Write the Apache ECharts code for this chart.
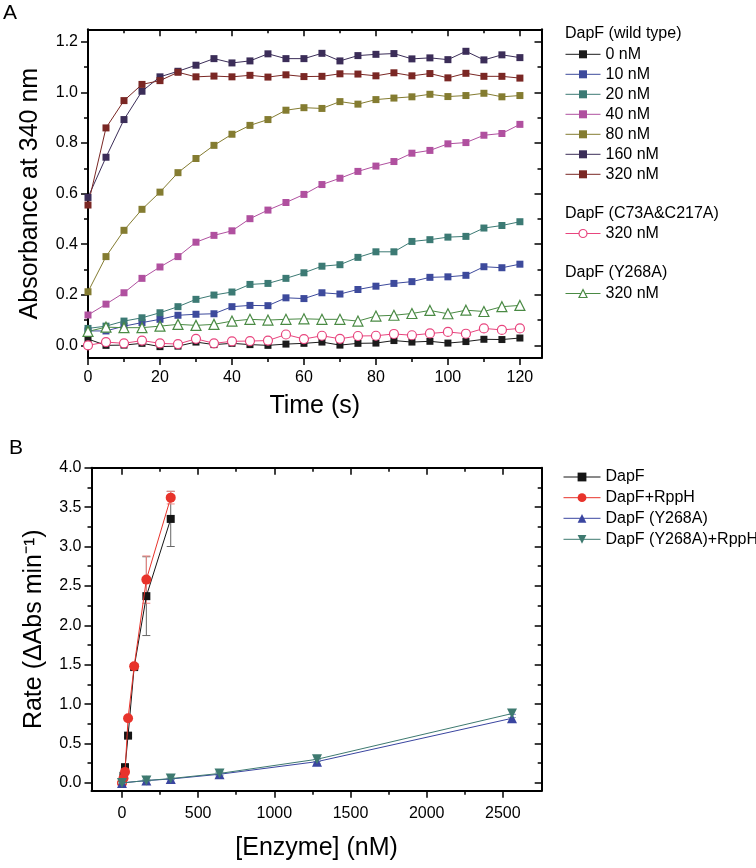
<!DOCTYPE html>
<html><head><meta charset="utf-8">
<script src="https://cdn.jsdelivr.net/npm/echarts@6/dist/echarts.min.js"></script>
<style>html,body{margin:0;padding:0;background:#fff}#c{width:756px;height:868px}</style>
</head><body><div id="c"></div>
<script>
// ---------- Panel A data ----------
const time = [0,5,10,15,20,25,30,35,40,45,50,55,60,65,70,75,80,85,90,95,100,105,110,115,120];
const wt0   = [0.025,0.000,0.001,0.008,-0.005,-0.003,0.013,0.003,0.008,0.003,0.000,0.005,0.008,0.013,0.001,0.008,0.009,0.019,0.013,0.016,0.009,0.015,0.024,0.023,0.029];
const wt10  = [0.057,0.057,0.076,0.090,0.103,0.119,0.123,0.125,0.153,0.158,0.157,0.188,0.185,0.208,0.203,0.221,0.234,0.245,0.252,0.269,0.271,0.277,0.311,0.307,0.321];
const wt20  = [0.067,0.076,0.096,0.109,0.129,0.153,0.182,0.199,0.211,0.241,0.245,0.265,0.287,0.313,0.319,0.348,0.370,0.370,0.411,0.418,0.428,0.431,0.464,0.474,0.489];
const wt40  = [0.120,0.163,0.208,0.265,0.310,0.351,0.408,0.435,0.453,0.501,0.535,0.565,0.597,0.636,0.661,0.688,0.709,0.727,0.760,0.771,0.797,0.802,0.831,0.838,0.874];
const wt80  = [0.212,0.351,0.455,0.538,0.606,0.683,0.739,0.791,0.835,0.870,0.893,0.930,0.940,0.937,0.964,0.954,0.972,0.978,0.983,0.993,0.984,0.988,0.997,0.983,0.988];
const wt160 = [0.585,0.744,0.893,1.005,1.062,1.084,1.108,1.134,1.117,1.125,1.153,1.134,1.134,1.155,1.125,1.146,1.151,1.154,1.133,1.137,1.130,1.163,1.129,1.149,1.138];
const wt320 = [0.555,0.860,0.968,1.032,1.047,1.080,1.062,1.065,1.062,1.068,1.061,1.070,1.063,1.064,1.074,1.073,1.066,1.078,1.066,1.075,1.058,1.076,1.064,1.064,1.057];
const mutC  = [0.000,0.013,0.008,0.019,0.008,0.005,0.026,0.008,0.016,0.017,0.019,0.043,0.025,0.038,0.026,0.037,0.038,0.045,0.040,0.047,0.053,0.046,0.067,0.061,0.067];
const mutY  = [0.055,0.072,0.070,0.070,0.076,0.083,0.079,0.083,0.096,0.103,0.100,0.103,0.105,0.103,0.103,0.096,0.116,0.119,0.126,0.138,0.125,0.139,0.134,0.153,0.158];
const headersA = ['DapF (wild type)','DapF (C73A&C217A)','DapF (Y268A)'];
const xMajorA = [0,20,40,60,80,100,120];
const xMinorA = [10,30,50,70,90,110];
const yMajorA = [0,0.2,0.4,0.6,0.8,1.0,1.2];
const yMinorA = [0.1,0.3,0.5,0.7,0.9,1.1];

// ---------- Panel B data ----------
const enzWT  = [0,10,20,40,80,160,320];
const rateWT = [0,0.09,0.20,0.60,1.47,2.37,3.35];
const errWT  = [0.01,0.01,0.02,0.02,0.03,0.50,0.35];
const rateWTR = [0,0.06,0.14,0.82,1.48,2.58,3.62];
const errWTR  = [0.01,0.01,0.02,0.02,0.03,0.30,0.08];
const enzY   = [0,160,320,640,1280,2560];
const rateY  = [0,0.03,0.05,0.11,0.27,0.82];
const errY   = [0.005,0.01,0.01,0.02,0.03,0.05];
const rateYR = [0,0.03,0.055,0.12,0.30,0.88];
const errYR  = [0.005,0.01,0.01,0.02,0.03,0.05];
const xMajorB = [0,500,1000,1500,2000,2500];
const xMinorB = [250,750,1250,1750,2250];
const yMajorB = [0,0.5,1.0,1.5,2.0,2.5,3.0,3.5,4.0];
const yMinorB = [0.25,0.75,1.25,1.75,2.25,2.75,3.25,3.75];

const FF = '"Liberation Sans", Arial, Helvetica, sans-serif';
const gA = {left:88, top:29.3, width:453.5, height:328.7};
const gB = {left:91.5, top:467.7, width:450.2, height:323.1};

const grids = [gA, gA, gB, gB].map(g => Object.assign({show:false, outerBoundsMode:'none', containLabel:false}, g));

function axis(gridIndex, position, min, max, ticks, len, inside, showLine, extra) {
  return Object.assign({
    type:'value', gridIndex, position, min, max,
    axisLine:{show:showLine, onZero:false, lineStyle:{color:'#000', width:2}},
    axisTick:{show:true, inside, length:len, customValues:ticks, lineStyle:{color:'#000', width:1.5}},
    axisLabel:{show:false},
    splitLine:{show:false}
  }, extra || {});
}
const nameStyle = {fontSize:25, color:'#000', fontFamily:FF};
const labStyle = (vals, fmt, margin) => ({show:true, customValues:vals, formatter:fmt, fontSize:16, color:'#000', fontFamily:FF, margin});

const xAxes = [
  axis(0,'bottom',0,126,xMajorA,7,false,true,{axisLabel:labStyle(xMajorA, v=>String(v), 12), name:'Time (s)', nameLocation:'middle', nameGap:36, nameTextStyle:nameStyle}),
  axis(0,'top',0,126,xMajorA,7,true,true),
  axis(1,'bottom',0,126,xMinorA,4,false,false),
  axis(1,'top',0,126,xMinorA,4,true,false),
  axis(2,'bottom',-200,2755,xMajorB,7,false,true,{axisLabel:labStyle(xMajorB, v=>String(v), 15), name:'[Enzyme] (nM)', nameLocation:'middle', nameGap:45, nameTextStyle:nameStyle}),
  axis(2,'top',-200,2755,xMajorB,7,true,true),
  axis(3,'bottom',-200,2755,xMinorB,4,false,false),
  axis(3,'top',-200,2755,xMinorB,4,true,false)
];
const yAxes = [
  axis(0,'left',-0.05,1.25,yMajorA,7,false,true,{axisLabel:labStyle(yMajorA, v=>v.toFixed(1), 10), name:'Absorbance at 340 nm', nameLocation:'middle', nameGap:45, nameTextStyle:nameStyle}),
  axis(0,'right',-0.05,1.25,yMajorA,7,true,true),
  axis(1,'left',-0.05,1.25,yMinorA,4,false,false),
  axis(1,'right',-0.05,1.25,yMinorA,4,true,false),
  axis(2,'left',-0.1,4.0,yMajorB,7,false,true,{axisLabel:labStyle(yMajorB, v=>v.toFixed(1), 10), name:'Rate (\u0394Abs min\u207B\u00B9)', nameLocation:'middle', nameGap:45, nameTextStyle:nameStyle}),
  axis(2,'right',-0.1,4.0,yMajorB,7,true,true),
  axis(3,'left',-0.1,4.0,yMinorB,4,false,false),
  axis(3,'right',-0.1,4.0,yMinorB,4,true,false)
];

const seriesA = [
  {key:'wt|0 nM', vals:wt0, color:'#1b1b1b', symbol:'rect', size:7, open:false},
  {key:'wt|10 nM', vals:wt10, color:'#3d4a9c', symbol:'rect', size:7, open:false},
  {key:'wt|20 nM', vals:wt20, color:'#3c7a74', symbol:'rect', size:7, open:false},
  {key:'wt|40 nM', vals:wt40, color:'#b0509f', symbol:'rect', size:7, open:false},
  {key:'wt|80 nM', vals:wt80, color:'#847c31', symbol:'rect', size:7, open:false},
  {key:'wt|160 nM', vals:wt160, color:'#3b2d58', symbol:'rect', size:7, open:false},
  {key:'wt|320 nM', vals:wt320, color:'#7a2724', symbol:'rect', size:7, open:false},
  {key:'c|320 nM', vals:mutC, color:'#e8457e', symbol:'circle', size:9, open:true},
  {key:'y|320 nM', vals:mutY, color:'#4a8a44', symbol:'triangle', size:10, open:true}
];
const seriesB = [
  {key:'DapF', x:enzWT, vals:rateWT, err:errWT, color:'#141414', ecol:'#666666', symbol:'rect', size:8, rot:0},
  {key:'DapF+RppH', x:enzWT, vals:rateWTR, err:errWTR, color:'#e8332b', ecol:'#f08a86', symbol:'circle', size:10, rot:0},
  {key:'DapF (Y268A)', x:enzY, vals:rateY, err:errY, color:'#3a45a0', ecol:'#8a90c8', symbol:'triangle', size:10, rot:0},
  {key:'DapF (Y268A)+RppH', x:enzY, vals:rateYR, err:errYR, color:'#3e7a70', ecol:'#8fb5ae', symbol:'triangle', size:10, rot:180}
];

const series = [];
seriesA.forEach(s => {
  series.push({
    type:'line', name:s.key, xAxisIndex:0, yAxisIndex:0,
    data: time.map((t,i)=>[t, s.vals[i]]),
    symbol:s.symbol, symbolSize:s.size, showSymbol:true,
    lineStyle:{color:s.color, width:1},
    itemStyle: s.open ? {color:'#fff', borderColor:s.color, borderWidth:1.2} : {color:s.color, borderWidth:0},
    emphasis:{disabled:true}, animation:false
  });
});
seriesB.forEach((s, k) => {
  series.push({
    type:'custom', xAxisIndex:4, yAxisIndex:4, z:1+k, silent:true, animation:false,
    data: s.x.map((x,i)=>[x, s.vals[i]-s.err[i], s.vals[i]+s.err[i]]),
    encode:{x:0, y:[1,2]},
    renderItem:(params, api) => {
      const x = api.value(0);
      const p1 = api.coord([x, api.value(1)]);
      const p2 = api.coord([x, api.value(2)]);
      const w = 4;
      const st = {stroke:s.ecol, lineWidth:1};
      return {type:'group', children:[
        {type:'line', shape:{x1:p1[0], y1:p1[1], x2:p2[0], y2:p2[1]}, style:st},
        {type:'line', shape:{x1:p1[0]-w, y1:p1[1], x2:p1[0]+w, y2:p1[1]}, style:st},
        {type:'line', shape:{x1:p2[0]-w, y1:p2[1], x2:p2[0]+w, y2:p2[1]}, style:st}
      ]};
    }
  });
  series.push({
    type:'line', name:s.key, xAxisIndex:4, yAxisIndex:4, z:2+k,
    data: s.x.map((x,i)=>[x, s.vals[i]]),
    symbol:s.symbol, symbolSize:s.size, symbolRotate:s.rot, showSymbol:true,
    lineStyle:{color:s.color, width:1},
    itemStyle:{color:s.color, borderWidth:0},
    emphasis:{disabled:true}, animation:false
  });
});

const legends = [];
const rowsA = [54.3,74.3,94.3,114.3,134.3,154.3,174.3,233.5,293.5];
seriesA.forEach((s, i) => {
  legends.push({
    data:[s.key], left:565, top:rowsA[i]-8, orient:'vertical', padding:0,
    itemWidth:35, itemHeight:10, selectedMode:false,
    formatter: n => n.split('|')[1],
    textStyle:{fontSize:16, color:'#000', fontFamily:FF, lineHeight:16},
    lineStyle:{color:s.color, width:1},
    itemStyle: s.open ? {color:'#fff', borderColor:s.color, borderWidth:1.2} : {color:s.color, borderWidth:0}
  });
});
const rowsB = [477,497.7,518.3,539.3];
seriesB.forEach((s, i) => {
  legends.push({
    data:[s.key], left:563, top:rowsB[i]-8, orient:'vertical', padding:0,
    itemWidth:37, itemHeight:11, selectedMode:false,
    textStyle:{fontSize:16, color:'#000', fontFamily:FF, lineHeight:16},
    lineStyle:{color:s.color, width:1},
    itemStyle:{color:s.color, borderWidth:0}
  });
});

const headerY = [35, 214.3, 274];
const graphics = headersA.map((h,i) => ({
  type:'text', left:565, top:headerY[i]-9,
  style:{text:h, font:'16px ' + FF, fill:'#000'}
}));
graphics.push({type:'text', left:3, top:3, style:{text:'A', font:'21px ' + FF, fill:'#000'}});
graphics.push({type:'text', left:9, top:438, style:{text:'B', font:'21px ' + FF, fill:'#000'}});

const chart = echarts.init(document.getElementById('c'), null, {renderer:'canvas'});
chart.setOption({
  animation:false,
  backgroundColor:'#fff',
  grid:grids, xAxis:xAxes, yAxis:yAxes,
  legend:legends, series, graphic:graphics
});
</script></body></html>
